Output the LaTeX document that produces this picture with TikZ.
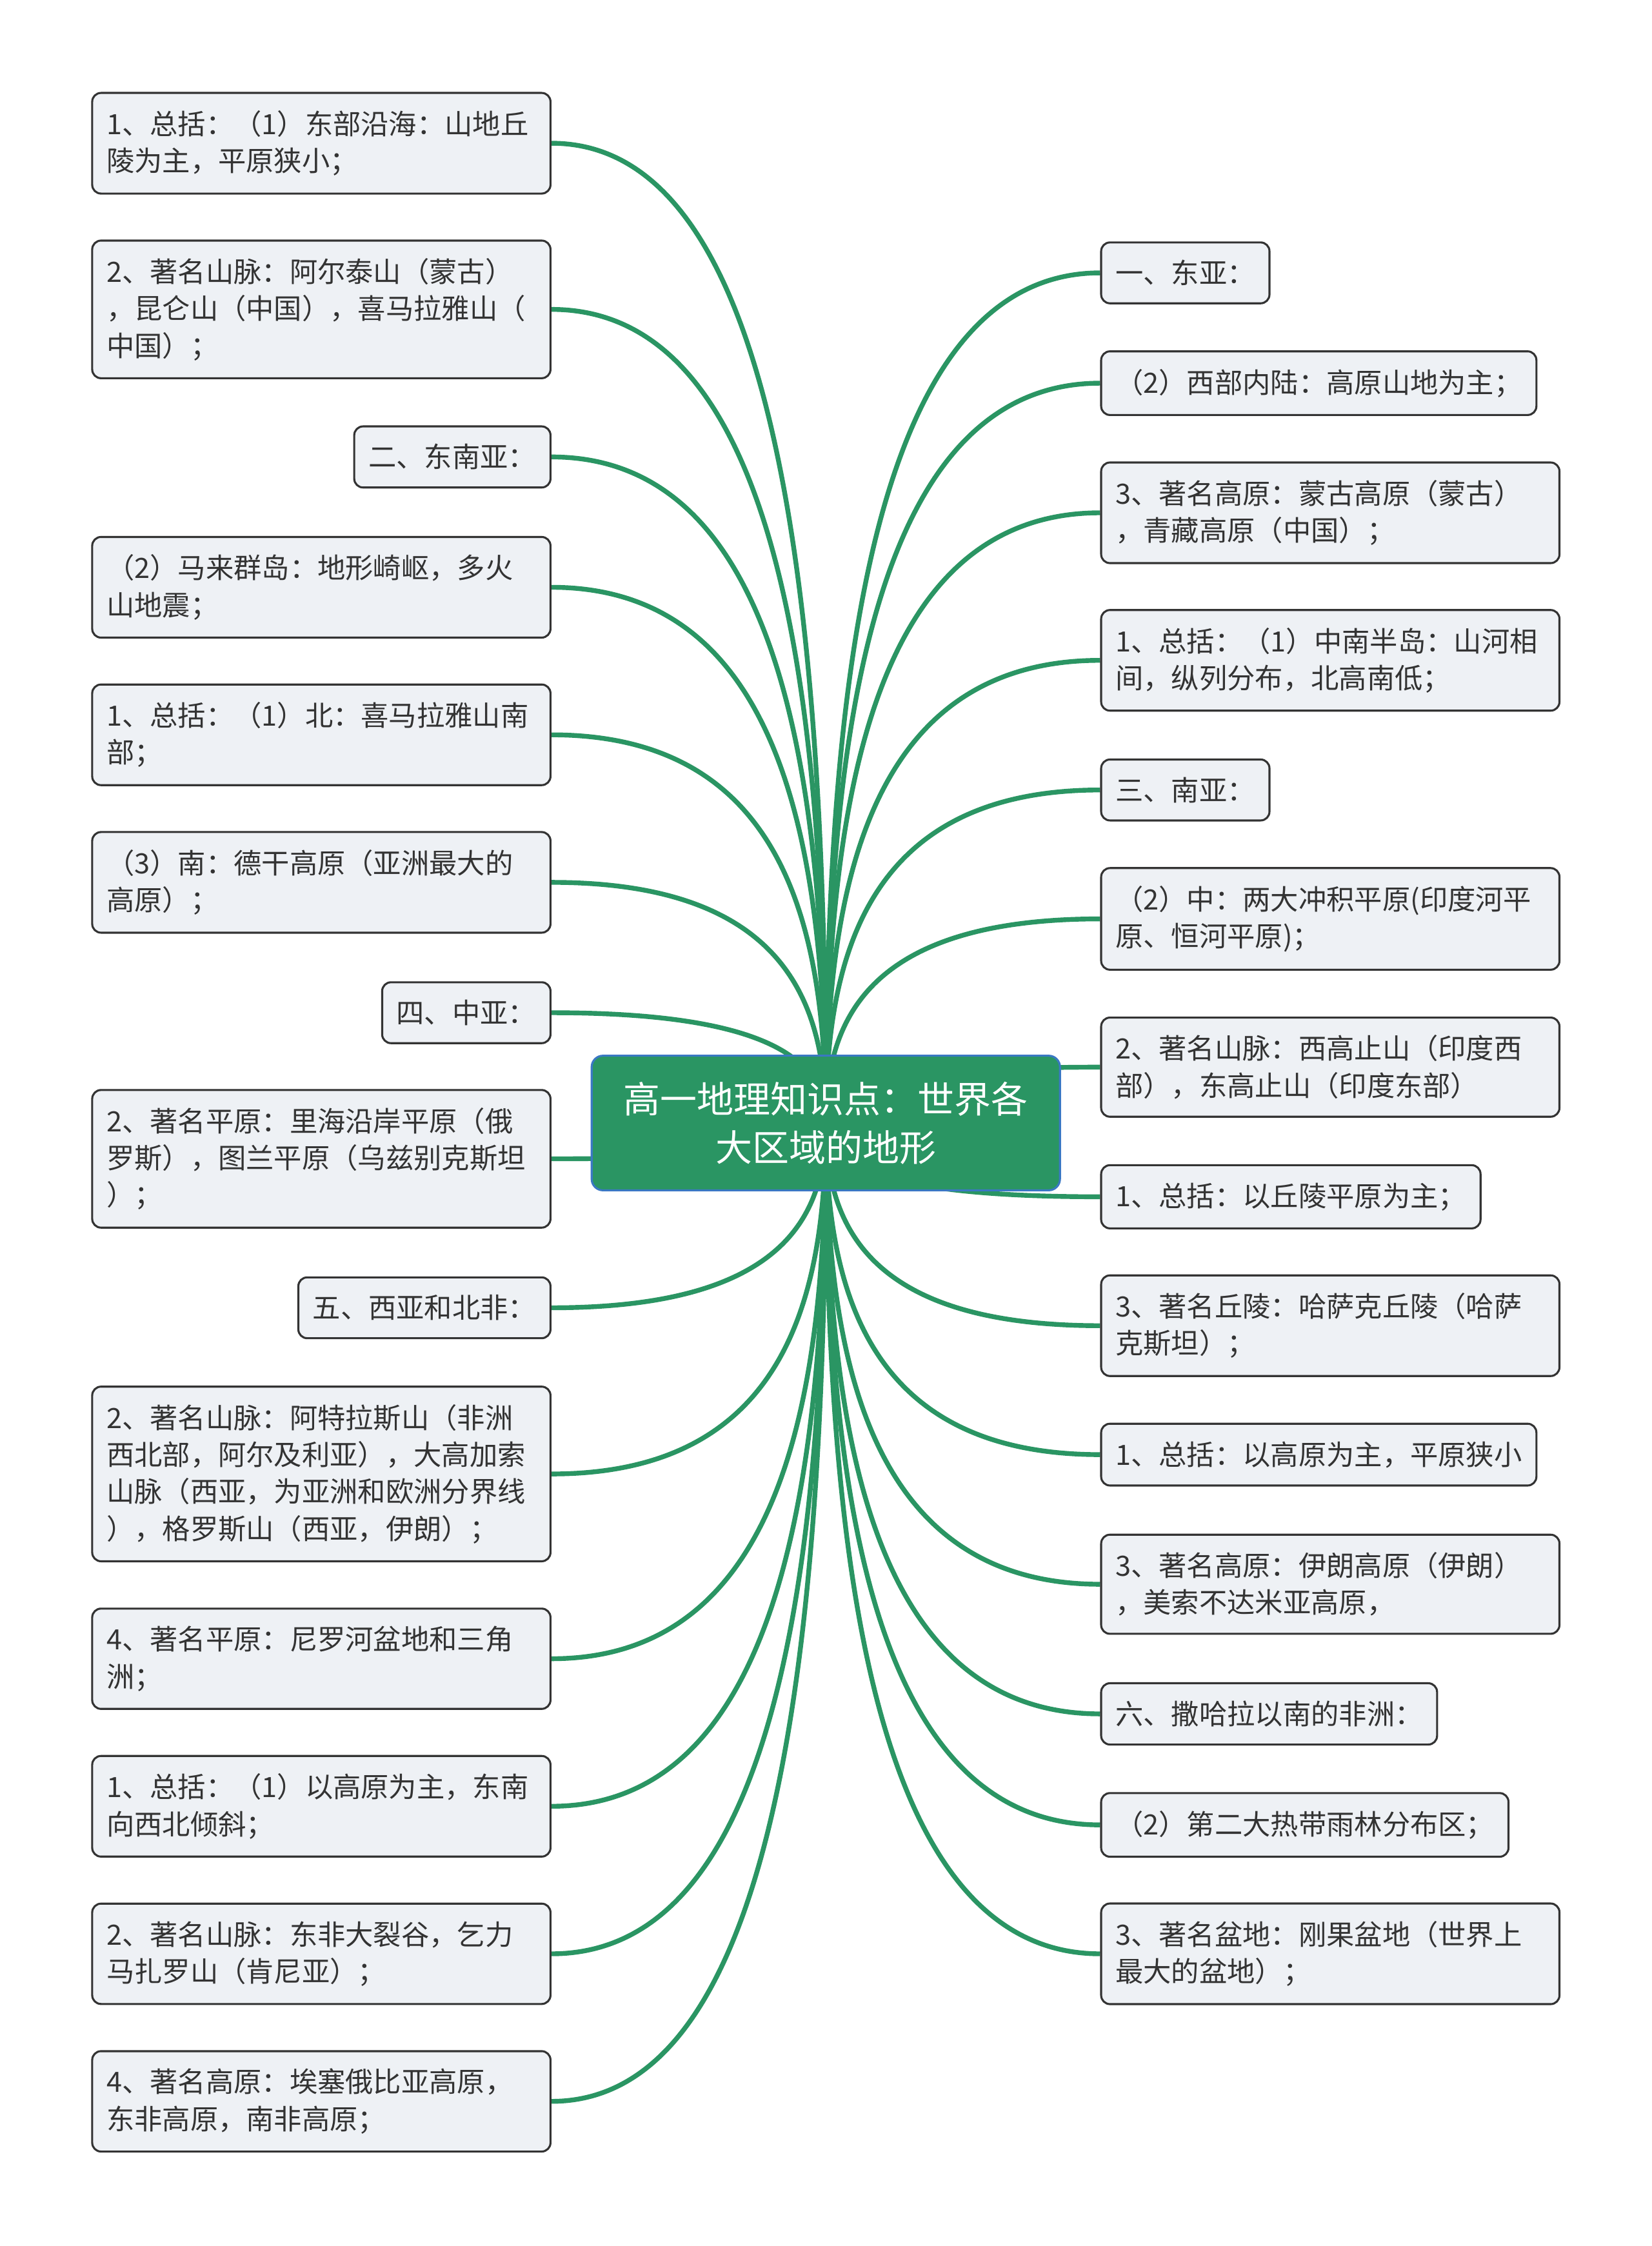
\documentclass[tikz,border=0pt]{standalone}
\usepackage{fontspec}
\setmainfont{Noto Sans CJK SC}
\usetikzlibrary{calc,backgrounds}
\definecolor{deepgreen}{HTML}{2A9563}
\definecolor{edgeblue}{HTML}{3A78C3}
\definecolor{softgray}{HTML}{EEF1F5}
\definecolor{inkgray}{HTML}{333333}
\tikzset{
  topic/.style={draw=inkgray,fill=softgray,rounded corners=3.5pt,line width=0.8pt,
                align=left,inner xsep=0.2cm,inner ysep=7pt,text=inkgray,
                font=\fontsize{11.1pt}{14.7pt}\selectfont},
  widetopic/.style={topic,text width=6.0cm},
  central/.style={draw=edgeblue,fill=deepgreen,rounded corners=4.5pt,line width=0.8pt,
                  align=center,text=white,minimum width=6.54cm,minimum height=1.88cm,
                  font=\fontsize{14.6pt}{19.3pt}\selectfont},
  branch/.style={draw=deepgreen,line width=1.9pt,
    to path={.. controls ($(\tikztostart)!0.85!(\tikztotarget|-\tikztostart)$)
             and ($(\tikztotarget)!0.5!(\tikztotarget|-\tikztostart)$) .. (\tikztotarget)}}
}

\begin{document}
\begin{tikzpicture}[x=0.02cm,y=-0.02cm]
  \useasboundingbox (0,0) rectangle (1153,1568);

  \node[central] (root) at (576.5,784) {高一地理知识点：世界各\\大区域的地形};

  % left column
  \node[widetopic,anchor=east] (eaCoast) at (385,100) {1、总括：（1）东部沿海：山地丘\\陵为主，平原狭小；};
  \node[widetopic,anchor=east] (eaMount) at (385,216) {2、著名山脉：阿尔泰山（蒙古）\\，昆仑山（中国），喜马拉雅山（\\中国）；};
  \node[topic,anchor=east] (seAsia) at (385,319) {二、东南亚：};
  \node[widetopic,anchor=east] (seIsland) at (385,410) {（2）马来群岛：地形崎岖，多火\\山地震；};
  \node[widetopic,anchor=east] (saNorth) at (385,513) {1、总括：（1）北：喜马拉雅山南\\部；};
  \node[widetopic,anchor=east] (saSouth) at (385,616) {（3）南：德干高原（亚洲最大的\\高原）；};
  \node[topic,anchor=east] (caAsia) at (385,707) {四、中亚：};
  \node[widetopic,anchor=east] (caPlain) at (385,809) {2、著名平原：里海沿岸平原（俄\\罗斯），图兰平原（乌兹别克斯坦\\）；};
  \node[topic,anchor=east] (waAfrica) at (385,913) {五、西亚和北非：};
  \node[widetopic,anchor=east] (waMount) at (385,1029) {2、著名山脉：阿特拉斯山（非洲\\西北部，阿尔及利亚），大高加索\\山脉（西亚，为亚洲和欧洲分界线\\），格罗斯山（西亚，伊朗）；};
  \node[widetopic,anchor=east] (waPlain) at (385,1158) {4、著名平原：尼罗河盆地和三角\\洲；};
  \node[widetopic,anchor=east] (afSum) at (385,1261) {1、总括：（1）以高原为主，东南\\向西北倾斜；};
  \node[widetopic,anchor=east] (afMount) at (385,1364) {2、著名山脉：东非大裂谷，乞力\\马扎罗山（肯尼亚）；};
  \node[widetopic,anchor=east] (afPlat) at (385,1467) {4、著名高原：埃塞俄比亚高原，\\东非高原，南非高原；};

  % right column
  \node[topic,anchor=west] (eAsia) at (768,190.5) {一、东亚：};
  \node[topic,anchor=west] (eaWest) at (768,267.5) {（2）西部内陆：高原山地为主；};
  \node[widetopic,anchor=west] (eaPlat) at (768,358) {3、著名高原：蒙古高原（蒙古）\\，青藏高原（中国）；};
  \node[widetopic,anchor=west] (seSum) at (768,461) {1、总括：（1）中南半岛：山河相\\间，纵列分布，北高南低；};
  \node[topic,anchor=west] (sAsia) at (768,551.5) {三、南亚：};
  \node[widetopic,anchor=west] (saMid) at (768,641.5) {（2）中：两大冲积平原(印度河平\\原、恒河平原)；};
  \node[widetopic,anchor=west] (saMount) at (768,745) {2、著名山脉：西高止山（印度西\\部），东高止山（印度东部）};
  \node[topic,anchor=west] (caSum) at (768,835.5) {1、总括：以丘陵平原为主；};
  \node[widetopic,anchor=west] (caHill) at (768,925.5) {3、著名丘陵：哈萨克丘陵（哈萨\\克斯坦）；};
  \node[topic,anchor=west] (waSum) at (768,1015.5) {1、总括：以高原为主，平原狭小};
  \node[widetopic,anchor=west] (waPlat) at (768,1106) {3、著名高原：伊朗高原（伊朗）\\，美索不达米亚高原，};
  \node[topic,anchor=west] (ssAfrica) at (768,1196.5) {六、撒哈拉以南的非洲：};
  \node[topic,anchor=west] (afRain) at (768,1274) {（2）第二大热带雨林分布区；};
  \node[widetopic,anchor=west] (afBasin) at (768,1364) {3、著名盆地：刚果盆地（世界上\\最大的盆地）；};

  \begin{scope}[on background layer]
    \draw[branch] (eaCoast.east) to (root.center);
    \draw[branch] (eaMount.east) to (root.center);
    \draw[branch] (seAsia.east) to (root.center);
    \draw[branch] (seIsland.east) to (root.center);
    \draw[branch] (saNorth.east) to (root.center);
    \draw[branch] (saSouth.east) to (root.center);
    \draw[branch] (caAsia.east) to (root.center);
    \draw[branch] (caPlain.east) to (root.center);
    \draw[branch] (waAfrica.east) to (root.center);
    \draw[branch] (waMount.east) to (root.center);
    \draw[branch] (waPlain.east) to (root.center);
    \draw[branch] (afSum.east) to (root.center);
    \draw[branch] (afMount.east) to (root.center);
    \draw[branch] (afPlat.east) to (root.center);
    \draw[branch] (eAsia.west) to (root.center);
    \draw[branch] (eaWest.west) to (root.center);
    \draw[branch] (eaPlat.west) to (root.center);
    \draw[branch] (seSum.west) to (root.center);
    \draw[branch] (sAsia.west) to (root.center);
    \draw[branch] (saMid.west) to (root.center);
    \draw[branch] (saMount.west) to (root.center);
    \draw[branch] (caSum.west) to (root.center);
    \draw[branch] (caHill.west) to (root.center);
    \draw[branch] (waSum.west) to (root.center);
    \draw[branch] (waPlat.west) to (root.center);
    \draw[branch] (ssAfrica.west) to (root.center);
    \draw[branch] (afRain.west) to (root.center);
    \draw[branch] (afBasin.west) to (root.center);
  \end{scope}
\end{tikzpicture}
\end{document}
